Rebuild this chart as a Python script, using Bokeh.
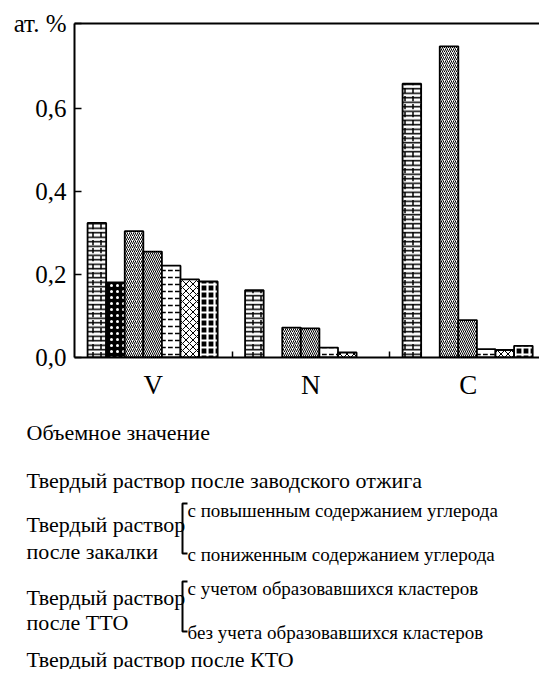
from bokeh.plotting import figure
from bokeh.models import Range1d, FixedTicker, LinearAxis, CustomJSTickFormatter, ColumnDataSource
from bokeh.embed import file_html
from bokeh.resources import INLINE
from bokeh.core.properties import value

# ---------------- data ----------------
categories = ["V", "N", "C"]
series_names = [
    "Объемное значение",
    "Твердый раствор после заводского отжига",
    "Закалка: с повышенным содержанием углерода",
    "Закалка: с пониженным содержанием углерода",
    "ТТО: с учетом образовавшихся кластеров",
    "ТТО: без учета образовавшихся кластеров",
    "Твердый раствор после КТО",
]
s_volume = [0.324, 0.162, 0.659]
s_factory = [0.181, 0.0, 0.0]
s_quench_hi = [0.304, 0.072, 0.749]
s_quench_lo = [0.255, 0.070, 0.090]
s_tto_cl = [0.221, 0.024, 0.020]
s_tto_nocl = [0.188, 0.012, 0.018]
s_kto = [0.183, 0.0, 0.028]
series_values = [s_volume, s_factory, s_quench_hi, s_quench_lo, s_tto_cl, s_tto_nocl, s_kto]
y_ticks = [0.0, 0.2, 0.4, 0.6]
y_unit = "ат. %"

legend_main = ["Объемное значение",
               "Твердый раствор после заводского отжига",
               "Твердый раствор", "после закалки",
               "Твердый раствор", "после ТТО",
               "Твердый раствор после КТО"]
legend_sub = ["с повышенным содержанием углерода",
              "с пониженным содержанием углерода",
              "с учетом образовавшихся кластеров",
              "без учета образовавшихся кластеров"]

# ---------------- layout / styles ----------------
FONT = "'Liberation Serif', 'Times New Roman', serif"
W = 539
H_TOP = 408
GAP = 8            # line gap the browser leaves between the two root elements
H_LEG = 261
FRAME_L, FRAME_T, FRAME_B = 74, 23, 357
GROUP_PX = 157.5
OFF = 0.083      # offset of first bar within a group
BW = 0.118       # bar width (group width = 1)
Y_END = 0.804
X_END = (W - FRAME_L) / GROUP_PX

styles = [
    [dict(fill_color="white", hatch_pattern="horizontal_line", hatch_scale=4.5, hatch_weight=1.5),
     dict(fill_color=None, hatch_pattern="vertical_dash", hatch_scale=8, hatch_weight=1.5)],
    [dict(fill_color="black", hatch_pattern="dot", hatch_color="white", hatch_scale=6, hatch_weight=1)],
    [dict(fill_color="white", hatch_pattern="right_diagonal_line", hatch_scale=4, hatch_weight=1)],
    [dict(fill_color="white", hatch_pattern="left_diagonal_line", hatch_scale=4, hatch_weight=1)],
    [dict(fill_color="white", hatch_pattern="horizontal_dash", hatch_scale=7, hatch_weight=1.5)],
    [dict(fill_color="white", hatch_pattern="diagonal_cross", hatch_scale=7, hatch_weight=1)],
    [dict(fill_color="black", hatch_pattern="cross", hatch_color="white", hatch_scale=7, hatch_weight=2.2)],
]

p = figure(width=W, height=H_TOP, output_backend="svg", toolbar_location=None,
           x_range=Range1d(0, X_END), y_range=Range1d(0, Y_END),
           min_border_left=FRAME_L, min_border_right=0, min_border_top=FRAME_T,
           min_border_bottom=H_TOP - FRAME_B)
p.outline_line_color = None
p.xgrid.visible = False
p.ygrid.visible = False
p.background_fill_color = "white"

for k, vals in enumerate(series_values):
    xs = [i + OFF + (k + 0.5) * BW for i, v in enumerate(vals) if v > 0]
    tops = [v for v in vals if v > 0]
    src = ColumnDataSource(dict(x=xs, top=tops))
    for st in styles[k]:
        kw = dict(hatch_color="black")
        kw.update(st)
        p.vbar(x="x", top="top", width=BW, bottom=0, source=src,
               line_color=None, **kw)
    p.vbar(x="x", top="top", width=BW, bottom=0, source=src,
           fill_color=None, line_color="black", line_width=1.8)

# y axis
ya = p.yaxis[0]
ya.ticker = FixedTicker(ticks=y_ticks + [Y_END], minor_ticks=[])
ya.formatter = CustomJSTickFormatter(args=dict(unit=y_unit, top=Y_END), code="""
    if (Math.abs(tick - top) < 1e-6) return unit;
    return tick.toFixed(1).replace('.', ',');
""")
ya.major_tick_in = 7
ya.major_tick_out = 0
ya.minor_tick_in = 0
ya.minor_tick_out = 0
ya.major_tick_line_width = 1.5
ya.axis_line_width = 2
ya.axis_line_color = "black"
ya.major_label_text_font = FONT
ya.major_label_text_font_size = "25px"
ya.major_label_text_color = "black"
ya.major_label_standoff = 8

# x axis
xa = p.xaxis[0]
xa.ticker = FixedTicker(ticks=[i + 0.5 for i in range(len(categories))],
                        minor_ticks=[float(i) for i in range(1, len(categories))])
xa.major_label_overrides = {i + 0.5: c for i, c in enumerate(categories)}
xa.major_tick_in = 0
xa.major_tick_out = 0
xa.minor_tick_in = 6
xa.minor_tick_out = 0
xa.minor_tick_line_width = 1.5
xa.axis_line_width = 2
xa.axis_line_color = "black"
xa.major_label_text_font = FONT
xa.major_label_text_font_size = "27px"
xa.major_label_text_color = "black"
xa.major_label_standoff = 12

# top line
top_axis = LinearAxis(ticker=FixedTicker(ticks=[]), major_label_text_font_size="0px",
                      major_tick_in=0, major_tick_out=0, minor_tick_in=0, minor_tick_out=0,
                      axis_line_width=2, axis_line_color="black")
p.add_layout(top_axis, "above")

# ---------------- legend figure (page-pixel coords) ----------------
LEG_TOP = H_TOP + GAP
q = figure(width=W, height=H_LEG, output_backend="svg", toolbar_location=None,
           x_range=Range1d(0, W), y_range=Range1d(LEG_TOP + H_LEG, LEG_TOP),
           x_axis_location=None, y_axis_location=None,
           min_border=0)
q.grid.visible = False
q.outline_line_color = None

main_x = [26] * 7
main_y = [440, 488, 532, 559, 605, 630, 667]
q.text(x=main_x, y=main_y, text=legend_main, text_font=value(FONT),
       text_font_size="22px", text_color="black", text_baseline="alphabetic")
sub_x = [187] * 4
sub_y = [518, 562, 596, 640]
q.text(x=sub_x, y=sub_y, text=legend_sub, text_font=value(FONT),
       text_font_size="19px", text_color="black", text_baseline="alphabetic")

br_x = 182
for (y0, y1) in [(511, 561), (589, 639)]:
    q.line(x=[br_x + 5, br_x, br_x, br_x + 5], y=[y0, y0, y1, y1],
           line_color="black", line_width=2)

open("out.html", "w").write(file_html([p, q], INLINE))
